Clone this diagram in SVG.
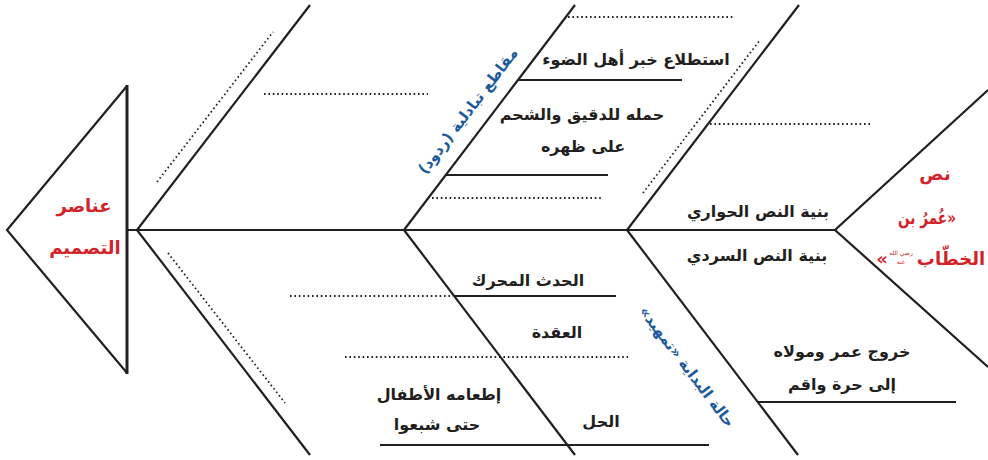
<svg xmlns="http://www.w3.org/2000/svg" width="988" height="460" viewBox="0 0 988 460">
<style>
.ln{stroke:#231f20;stroke-width:2.2;fill:none;stroke-linecap:butt}
.dt{stroke:#231f20;stroke-width:1.8;fill:none;stroke-dasharray:1.6 2.8}
.lb{font-family:"DejaVu Sans",sans-serif;font-weight:bold;font-size:16px;fill:#231f20;direction:rtl;text-anchor:middle}
.rd{font-family:"DejaVu Sans",sans-serif;font-weight:bold;font-size:18px;fill:#d2232a;direction:rtl;text-anchor:middle}
.bl{font-family:"DejaVu Sans",sans-serif;font-weight:bold;font-size:15px;fill:#1c5a9c;direction:rtl;text-anchor:middle}
.hn{font-family:"DejaVu Sans",sans-serif;font-size:6px;fill:#d2232a;direction:rtl;text-anchor:middle}
</style>
<rect width="988" height="460" fill="#ffffff"/>
<g id="connectors">
<line class="ln" x1="127" y1="230" x2="835" y2="230"/>
<line class="ln" x1="137" y1="230" x2="310" y2="5"/>
<line class="ln" x1="137" y1="230" x2="310" y2="455"/>
<line class="ln" x1="404" y1="230" x2="575" y2="5"/>
<line class="ln" x1="404" y1="230" x2="575" y2="455"/>
<line class="ln" x1="627" y1="230" x2="799" y2="5"/>
<line class="ln" x1="627" y1="230" x2="798" y2="455"/>
<line class="ln" x1="518" y1="80" x2="682" y2="80"/>
<line class="ln" x1="445" y1="175" x2="608" y2="175"/>
<line class="ln" x1="455" y1="296" x2="616" y2="296"/>
<line class="ln" x1="758" y1="402" x2="956" y2="402"/>
<line class="ln" x1="380" y1="445" x2="709" y2="445"/>
<line class="dt" x1="157" y1="182" x2="273" y2="32"/>
<line class="dt" x1="264" y1="94" x2="428" y2="94"/>
<line class="dt" x1="568" y1="17" x2="733" y2="17"/>
<line class="dt" x1="432" y1="198" x2="603" y2="198"/>
<line class="dt" x1="643" y1="193" x2="760" y2="40"/>
<line class="dt" x1="710" y1="124" x2="870" y2="124"/>
<line class="dt" x1="168" y1="253" x2="285" y2="403"/>
<line class="dt" x1="290" y1="296" x2="453" y2="296"/>
<line class="dt" x1="345" y1="357" x2="628" y2="357"/>
</g>
<g id="head-left">
<polyline class="ln" points="127,86 7,230 127,373"/>
<line x1="127" y1="85" x2="127" y2="374" stroke="#231f20" stroke-width="3"/>
<text class="rd" x="84" y="212">عناصر</text>
<text class="rd" x="85" y="254">التصميم</text>
</g>
<g id="head-right">
<polyline class="ln" points="988,90 835,230 988,367"/>
<text class="rd" x="935" y="180">نص</text>
<text class="rd" x="927" y="224" textLength="58" lengthAdjust="spacingAndGlyphs">«عُمرُ بن</text>
<text class="rd" x="951" y="265">الخطّاب</text>
<text class="hn" x="901" y="255">رضي الله</text>
<text class="hn" x="901" y="264">عنه</text>
<text class="rd" x="882" y="265">»</text>
</g>
<g id="branch-exchange">
<text class="bl" transform="translate(472,114) rotate(-52.7)" x="0" y="0">مقاطع تبادلية (ردود)</text>
<text class="lb" x="636" y="65">استطلاع خبر أهل الضوء</text>
<text class="lb" x="582" y="120">حمله للدقيق والشحم</text>
<text class="lb" x="583" y="152">على ظهره</text>
</g>
<g id="branch-structure">
<text class="lb" x="758" y="217">بنية النص الحواري</text>
<text class="lb" x="757" y="261">بنية النص السردي</text>
</g>
<g id="branch-plot">
<text class="lb" x="528" y="286">الحدث المحرك</text>
<text class="lb" x="557" y="338">العقدة</text>
<text class="lb" x="439" y="400">إطعامه الأطفال</text>
<text class="lb" x="437" y="430">حتى شبعوا</text>
<text class="lb" x="601" y="427">الحل</text>
</g>
<g id="branch-start">
<text class="bl" transform="translate(683,370) rotate(52.8)" x="0" y="0">حالة البداية «تمهيد»</text>
<text class="lb" x="842" y="357">خروج عمر ومولاه</text>
<text class="lb" x="842" y="390">إلى حرة واقم</text>
</g>
</svg>
